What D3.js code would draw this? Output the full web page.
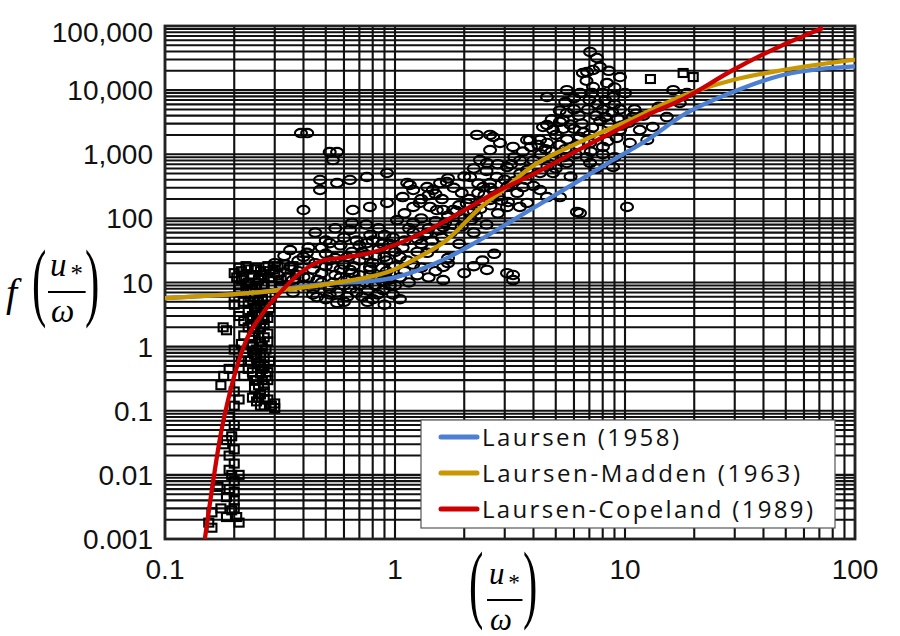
<!DOCTYPE html>
<html>
<head>
<meta charset="utf-8">
<script src="https://cdn.jsdelivr.net/npm/d3@7"></script>
<style>
  body { margin: 0; background: #fff; }
  svg { display: block; }
</style>
</head>
<body>
<div id="chart"></div>
<script>
// axis ticks
const xTicks = [0.1, 1, 10, 100];
const xTickLabels = ["0.1", "1", "10", "100"];
const yTicks = [0.001, 0.01, 0.1, 1, 10, 100, 1000, 10000, 100000];
const yTickLabels = ["0.001", "0.01", "0.1", "1", "10", "100", "1,000", "10,000", "100,000"];

// curves
const seriesNames = ["Laursen (1958)", "Laursen-Madden (1963)", "Laursen-Copeland (1989)"];
const seriesColors = ["#4d80d2", "#c99700", "#cc0000"];

const laursenX = [0.1, 0.26, 0.54, 0.705, 0.98, 1.2, 1.68, 2.34, 3.26, 4.58, 6.37, 8.87, 12.5, 17.9, 29.5, 48.6, 100];
const laursenY = [5.7, 7.1, 9.8, 10.2, 11.8, 14.6, 24, 46, 94, 194, 396, 813, 1670, 4090, 9350, 17200, 23500];

const maddenX = [0.1, 0.26, 0.54, 0.98, 1.2, 1.68, 2.34, 2.95, 3.86, 6.37, 10.5, 17.3, 29.5, 48.6, 100];
const maddenY = [5.7, 7.1, 9.8, 15.7, 22.4, 46, 145, 277, 611, 1553, 3420, 7810, 14400, 20600, 30000];

const copelandX = [0.149, 0.16, 0.174, 0.192, 0.223, 0.266, 0.316, 0.386, 0.486, 0.6, 0.78, 1.08, 1.52, 2.12, 2.86, 3.86, 4.58, 6.37, 8.87, 12.5, 17.9, 29.5, 48.6, 72.6];
const copelandY = [0.001, 0.006, 0.04, 0.2, 1.14, 3.3, 6.9, 14, 22, 24.5, 29, 43, 77, 151, 277, 460, 633, 1200, 2220, 4090, 7280, 20600, 50600, 93000];

// measured points, square symbols [u*/w, f]
const squarePts = [
  [0.2,14],[0.21,17],[0.22,12],[0.23,16],[0.24,13],[0.25,17],[0.26,15],[0.27,12],[0.28,18],[0.3,14],
  [0.32,11],[0.33,19],[0.35,16],[0.37,13],[0.23,10],[0.25,9],[0.21,9],[0.29,9],
  [0.21,7],[0.22,5],[0.2,4.5],[0.23,3.5],[0.22,2.5],[0.24,2],[0.25,3],[0.26,4.5],[0.27,2.2],[0.24,1.4],
  [0.26,1.2],[0.25,0.9],[0.27,0.7],[0.26,0.5],[0.24,0.4],[0.25,0.3],[0.27,0.25],[0.26,0.18],[0.23,0.6],
  [0.22,0.8],[0.28,0.4],[0.28,1.6],[0.29,6],[0.3,0.13],[0.27,0.12],[0.25,0.14],
  [0.215,11],[0.225,8],[0.235,6],[0.245,4],[0.255,3.2],[0.265,2.6],[0.235,2.8],[0.245,1.7],[0.255,1.5],
  [0.265,1],[0.235,1.1],[0.245,0.75],[0.255,0.55],[0.265,0.45],[0.275,0.35],[0.265,0.3],[0.245,0.22],
  [0.255,0.16],[0.28,0.15],[0.27,0.2],[0.285,0.6],[0.275,0.9],[0.27,1.4],[0.28,2.8],[0.285,4],[0.275,6],
  [0.26,7],[0.27,9],[0.24,8],[0.23,5],[0.2,6],[0.21,3],[0.22,1.5],[0.215,1.1],
  [0.179,2.0],[0.185,1.8],[0.18,0.35],[0.175,0.25],[0.2,0.12],[0.19,0.08],[0.2,0.06],[0.185,0.035],
  [0.18,0.03],[0.19,0.02],[0.2,0.015],[0.195,0.01],[0.2,0.008],[0.19,0.006],[0.17,0.0065],[0.2,0.004],
  [0.16,0.0026],[0.155,0.0018],[0.16,0.0015],[0.185,0.0022],[0.195,0.0028],[0.2,0.003],
  [0.205,12],[0.215,15],[0.225,18],[0.235,13],[0.245,16],[0.255,11],[0.265,13],[0.275,15],[0.285,12],
  [0.295,16],[0.31,18],[0.34,12],[0.36,18],[0.225,9.5],[0.235,7.5],[0.245,6],[0.255,5],[0.265,5.5],
  [0.25,4],[0.24,3],[0.26,2],[0.23,2],[0.25,2.4],[0.27,3],[0.28,1.2],[0.26,0.8],[0.24,1],[0.25,0.65],
  [0.27,0.5],[0.28,0.3],[0.255,0.25],[0.245,0.3],[0.26,0.38],[0.27,0.15],[0.26,0.12],[0.24,0.16],
  [0.29,0.12],[0.3,0.11],[0.23,0.45],[0.22,0.35],[0.215,0.6],[0.21,0.15],[0.2,0.2],[0.19,0.45],[0.2,0.9],
  [0.195,0.04],[0.2,0.025],[0.19,0.012],[0.21,0.01],[0.2,0.0055],[0.185,0.0045],[0.175,0.003],
  [0.21,0.0018],[0.205,0.0022],
  [12.9,14900],[19.8,16000],[17.9,18500]
];

// measured points, circle symbols [u*/w, f]
const circlePts = [
  [0.39,2140],[0.415,2140],[0.52,1080],[0.56,1080],[0.537,813],[0.472,397],[0.472,277],[0.56,356],
  [0.637,397],[0.755,442],[0.923,510],[0.4,135],[0.656,135],[0.778,151],[0.923,174],[1.2,277],[1.38,308],
  [1.57,356],[1.16,331],[1.68,369],[2.27,2000],[2.59,2000],[2.34,813],[2.12,442],[2.42,308],[2.77,442],
  [1.08,215],[1.28,174],[1.52,135],[1.79,135],[1.02,94],[1.2,85],[1.38,59],[1.62,73],[2.12,121],
  [0.35,32],[0.414,29],[0.52,41],[0.637,66],[0.755,41],[0.537,17.5],[0.637,15.7],[0.778,17.5],[1.13,22],
  [1.38,29],[1.62,17.5],[1.62,10.9],[2.51,15.7],[0.887,7.6],[0.4,12.2],[0.35,17.5],[0.458,5.9],[0.56,4.8],
  [1.46,277],[1.13,356],[1.2,151],[1.42,151],[1.62,135],[3.07,14],[3.26,10.9],[3.75,1670],[4.27,1670],
  [4.58,2860],[5.21,3200],[5.59,4400],[6.37,9000],[7.26,11200],[8.35,12900],[8.87,7800],[10.2,151],
  [6.37,121],[5.21,215],[3.49,151],[7.26,20600],[6.56,18500],[7.05,39400],[7.55,31700],[6.84,19200],
  [7.78,23000],[9.51,16000],[4.58,7800],[5.59,10000],[4.4,2660],[5.37,3400],[4.86,2390],[2.67,1860],
  [2.86,1500],[2.59,1160],[3.26,1300],[3.86,1670],[4.58,1500],[6.37,1860],[7.05,1500],[2.51,730],
  [3.07,633],[3.75,568],[4.27,510],[4.86,510],[5.59,730],[7.05,730],[8.02,1300],[9.51,2390],[10.8,3800],
  [11.6,2390],[13.2,2660],[15.2,3800],[17.3,6300],[18.6,9000],[16.2,10000],[2.59,356],[3.07,308],
  [3.6,308],[4.27,277],[2.59,194],[3.07,151],[3.75,174],[4.58,215],[6.18,126],[8.87,633],[12.5,1670],
  [3.26,13.1],
  [0.4,25],[0.45,20],[0.5,28],[0.55,24],[0.6,19],[0.65,30],[0.7,22],[0.75,27],[0.8,20],[0.85,33],[0.9,25],
  [0.42,35],[0.5,45],[0.6,50],[0.7,38],[0.8,45],[0.9,55],[0.45,60],[0.55,70],[0.65,85],[0.75,80],[0.85,70],
  [0.95,40],[0.38,22],[0.48,14],[0.58,12],[0.68,11],[0.9,13],[1,18],[1,30],
  [1.1,45],[1.2,60],[1.3,40],[1.4,70],[1.5,90],[1.6,50],[1.7,110],[1.8,80],[1.9,160],[2,100],[2.1,200],
  [2.2,130],[2.3,250],[2.4,180],[2.6,300],[2.8,220],[3,400],[1.1,120],[1.3,200],[1.5,240],[1.8,300],
  [2,450],[2.5,550],[1.05,25],[1.25,30],[1.45,35],[1.7,24],[1.9,40],[2.2,60],[2.5,80],[2.8,120],[3.1,180],
  [3.4,250],[3.7,400],[4,320],
  [3.3,900],[3.6,1100],[4,800],[4.3,1000],[4.6,650],[5,900],[5.5,1200],[6,2500],[6.5,3000],[7,2000],
  [7.5,4000],[8,5000],[8.5,3000],[9,6000],[9.5,5000],[6,5000],[7,7000],[8,9000],[5,2000],[4.5,1200],
  [6.8,14000],[7.2,9000],[8.5,20000],[9,11000],[10,9000],[11,5000],[12,4000],[14,5500],[5.5,6500],
  [6,7500],[9.2,1800],[10.5,1500],[8,1000],[6.8,900],[5.8,450],[7.5,600],[9,900],
  [0.32,9],[0.36,7],[0.4,9],[0.44,8],[0.48,10],[0.52,8],[0.56,7],[0.6,9],[0.64,8],[0.7,9],[0.76,7.5],
  [0.82,9],[0.88,10.5],[0.95,9],[0.5,5.5],[0.62,6],[0.72,6],[0.8,5.5],[0.42,12],[0.55,13],[0.65,14],
  [0.78,13],[0.92,15],[1.05,12],[1.15,10],[1.25,13],[1.4,12],[1.3,17],[1.5,15],[1.7,20],[2,14],[2.2,18],
  [2.4,22],[2.7,28],[0.98,6.5],[0.9,4.5],[1.05,5.5],[0.3,20],[0.33,26],[0.31,13],
  [0.34,12],[0.38,15],[0.44,16],[0.46,11],[0.5,18],[0.54,10],[0.58,16],[0.62,11],[0.66,18],[0.7,13],
  [0.74,10],[0.78,16],[0.84,12],[0.88,17],[0.94,11],[1,9],[1.1,15],[1.2,19],[0.36,11],[0.44,6.5],
  [0.52,6.5],[0.6,5],[0.68,7],[0.76,5],[0.84,6.5],[0.42,22],[0.52,22],[0.62,25],[0.72,30],[0.82,26],
  [0.92,22],[0.48,35],[0.58,38],[0.68,45],[0.78,55],[0.88,40],[0.98,50],[1.08,35],[1.15,70],[1.3,100],
  [1.25,48],[1.35,55],[1.45,45],[1.55,65],[1.65,85],[1.75,60],[1.85,130],[1.95,75],[2.05,170],[2.15,95],
  [2.25,110],[2.35,140],[2.45,230],[2.6,160],[2.7,260],[2.9,190],[3.1,320],[3.3,380],[3.5,500],[2.3,350],
  [1.95,250],[1.6,200],[1.4,230],[1.7,420],[2.2,600],[2.8,700],
  [3.2,700],[3.5,800],[3.9,1300],[4.2,1400],[4.8,1100],[5.2,1400],[5.6,1700],[6.2,1400],[6.6,2200],
  [7.2,2600],[7.8,3300],[8.2,3800],[8.8,4500],[9.3,3600],[5.8,2900],[6.3,4000],[6.9,5000],[7.6,6000],
  [8.2,7000],[5.2,4800],[4.8,3500],[5.4,2500],[6.1,1000],[7.1,1100],[8.4,1600],[9.7,2800],[10.4,3100],
  [11.2,4300],[5,600],[5.4,900]
];

var width = 900,
    height = 636,
    plotLeft = 165, plotRight = 855, plotTop = 26, plotBottom = 539;

var x = d3.scaleLog().domain([0.1, 100]).range([plotLeft, plotRight]);
var y = d3.scaleLog().domain([0.001, 100000]).range([plotBottom, plotTop]);

var svg = d3.select('#chart').append('svg')
  .attr('width', width)
  .attr('height', height)
  .style('font-family', '"Liberation Sans", Arial, sans-serif');

svg.append('clipPath').attr('id', 'plotClip')
  .append('rect')
    .attr('x', plotLeft).attr('y', plotTop)
    .attr('width', plotRight - plotLeft).attr('height', plotBottom - plotTop);

// log grid, lines at 1..9 of every decade
var xGrid = [];
[0.1, 1, 10].forEach(function(d) {
  for (let k = 1; k <= 9; k++) xGrid.push(d * k);
});
xGrid.push(100);

var yGrid = [];
[0.001, 0.01, 0.1, 1, 10, 100, 1000, 10000].forEach(function(d) {
  for (let k = 1; k <= 9; k++) yGrid.push(d * k);
});
yGrid.push(100000);

var grid = svg.append('g').attr('stroke', '#111');

grid.selectAll('line.h').data(yGrid).enter().append('line')
  .attr('class', 'h')
  .attr('x1', plotLeft).attr('x2', plotRight)
  .attr('y1', function(d) { return y(d); })
  .attr('y2', function(d) { return y(d); })
  .attr('stroke-width', 2.1);

grid.selectAll('line.v').data(xGrid).enter().append('line')
  .attr('class', 'v')
  .attr('y1', plotTop).attr('y2', plotBottom)
  .attr('x1', function(d) { return x(d); })
  .attr('x2', function(d) { return x(d); })
  .attr('stroke-width', 2.1);

// frame
svg.append('rect')
  .attr('x', plotLeft).attr('y', plotTop)
  .attr('width', plotRight - plotLeft).attr('height', plotBottom - plotTop)
  .attr('fill', 'none')
  .attr('stroke', '#222')
  .attr('stroke-width', 2.8);

// data points
var pts = svg.append('g').attr('clip-path', 'url(#plotClip)')
  .attr('fill', 'none').attr('stroke', '#000').attr('stroke-width', 2.1);

pts.selectAll('ellipse').data(circlePts).enter().append('ellipse')
  .attr('cx', function(d) { return x(d[0]); })
  .attr('cy', function(d) { return y(d[1]); })
  .attr('rx', 6)
  .attr('ry', 4.2);

pts.selectAll('rect').data(squarePts).enter().append('rect')
  .attr('x', function(d) { return x(d[0]) - 4.5; })
  .attr('y', function(d) { return y(d[1]) - 4; })
  .attr('width', 9)
  .attr('height', 8);

// curves
var curveData = [
  d3.zip(laursenX, laursenY),
  d3.zip(maddenX, maddenY),
  d3.zip(copelandX, copelandY)
];

var line = d3.line()
  .x(function(d) { return x(d[0]); })
  .y(function(d) { return y(d[1]); })
  .curve(d3.curveMonotoneX);

svg.append('g').attr('clip-path', 'url(#plotClip)')
  .selectAll('path').data(curveData).enter().append('path')
    .attr('d', line)
    .attr('fill', 'none')
    .attr('stroke', function(d, i) { return seriesColors[i]; })
    .attr('stroke-width', 4.3)
    .attr('stroke-linejoin', 'round');

// tick labels
svg.append('g').selectAll('text').data(yTicks).enter().append('text')
  .attr('x', 153)
  .attr('y', function(d) { return Math.max(y(d), 32); })
  .attr('dy', '0.36em')
  .attr('text-anchor', 'end')
  .attr('font-size', 28)
  .attr('fill', '#111')
  .text(function(d, i) { return yTickLabels[i]; });

svg.append('g').selectAll('text').data(xTicks).enter().append('text')
  .attr('x', function(d) { return x(d); })
  .attr('y', 579)
  .attr('text-anchor', 'middle')
  .attr('font-size', 28)
  .attr('fill', '#111')
  .text(function(d, i) { return xTickLabels[i]; });

// legend
var legend = svg.append('g');
legend.append('rect')
  .attr('x', 421).attr('y', 420)
  .attr('width', 414).attr('height', 108)
  .attr('fill', '#fff')
  .attr('stroke', '#555')
  .attr('stroke-width', 1.2);

var legendWidths = [197, 318, 331];
seriesNames.forEach(function(name, i) {
  let ly = 437 + i * 36;
  legend.append('line')
    .attr('x1', 441).attr('x2', 477)
    .attr('y1', ly).attr('y2', ly)
    .attr('stroke', seriesColors[i])
    .attr('stroke-width', 5)
    .attr('stroke-linecap', 'round');
  legend.append('text')
    .attr('x', 482).attr('y', ly + 8.5)
    .attr('font-family', '"Open Sans", sans-serif')
    .attr('font-size', 24)
    .attr('fill', '#111')
    .attr('textLength', legendWidths[i])
    .attr('lengthAdjust', 'spacing')
    .text(name);
});

// axis titles  f(u*/w)
function fraction(g, px, py, size) {
  g.append('text').attr('x', px).attr('y', py)
    .attr('font-family', '"Liberation Serif", serif').attr('font-style', 'italic')
    .attr('font-size', size).text('u');
  g.append('text').attr('x', px + size * 0.62).attr('y', py + 6)
    .attr('font-family', '"Liberation Serif", serif')
    .attr('font-size', size * 0.75).text('*');
  g.append('line')
    .attr('x1', px - 2).attr('x2', px + size * 1.08)
    .attr('y1', py + 16).attr('y2', py + 16)
    .attr('stroke', '#000').attr('stroke-width', 2);
  g.append('text').attr('x', px + 1).attr('y', py + 46)
    .attr('font-family', '"Liberation Serif", serif').attr('font-style', 'italic')
    .attr('font-size', size).text('ω');
}

function paren(g, ch, px, py) {
  g.append('text')
    .attr('transform', 'translate(' + px + ',' + py + ') scale(0.5,1)')
    .attr('font-family', '"Liberation Serif", serif')
    .attr('font-size', 86)
    .text(ch);
}

var yTitle = svg.append('g').attr('fill', '#000');
yTitle.append('text')
  .attr('x', 6).attr('y', 306)
  .attr('font-family', '"Liberation Serif", serif')
  .attr('font-style', 'italic')
  .attr('font-size', 40)
  .text('f');
paren(yTitle, '(', 32, 310);
fraction(yTitle, 50, 276, 33);
paren(yTitle, ')', 85, 310);

var xTitle = svg.append('g').attr('fill', '#000');
paren(xTitle, '(', 469, 612);
fraction(xTitle, 489, 584, 31);
paren(xTitle, ')', 523, 612);
</script>
</body>
</html>
